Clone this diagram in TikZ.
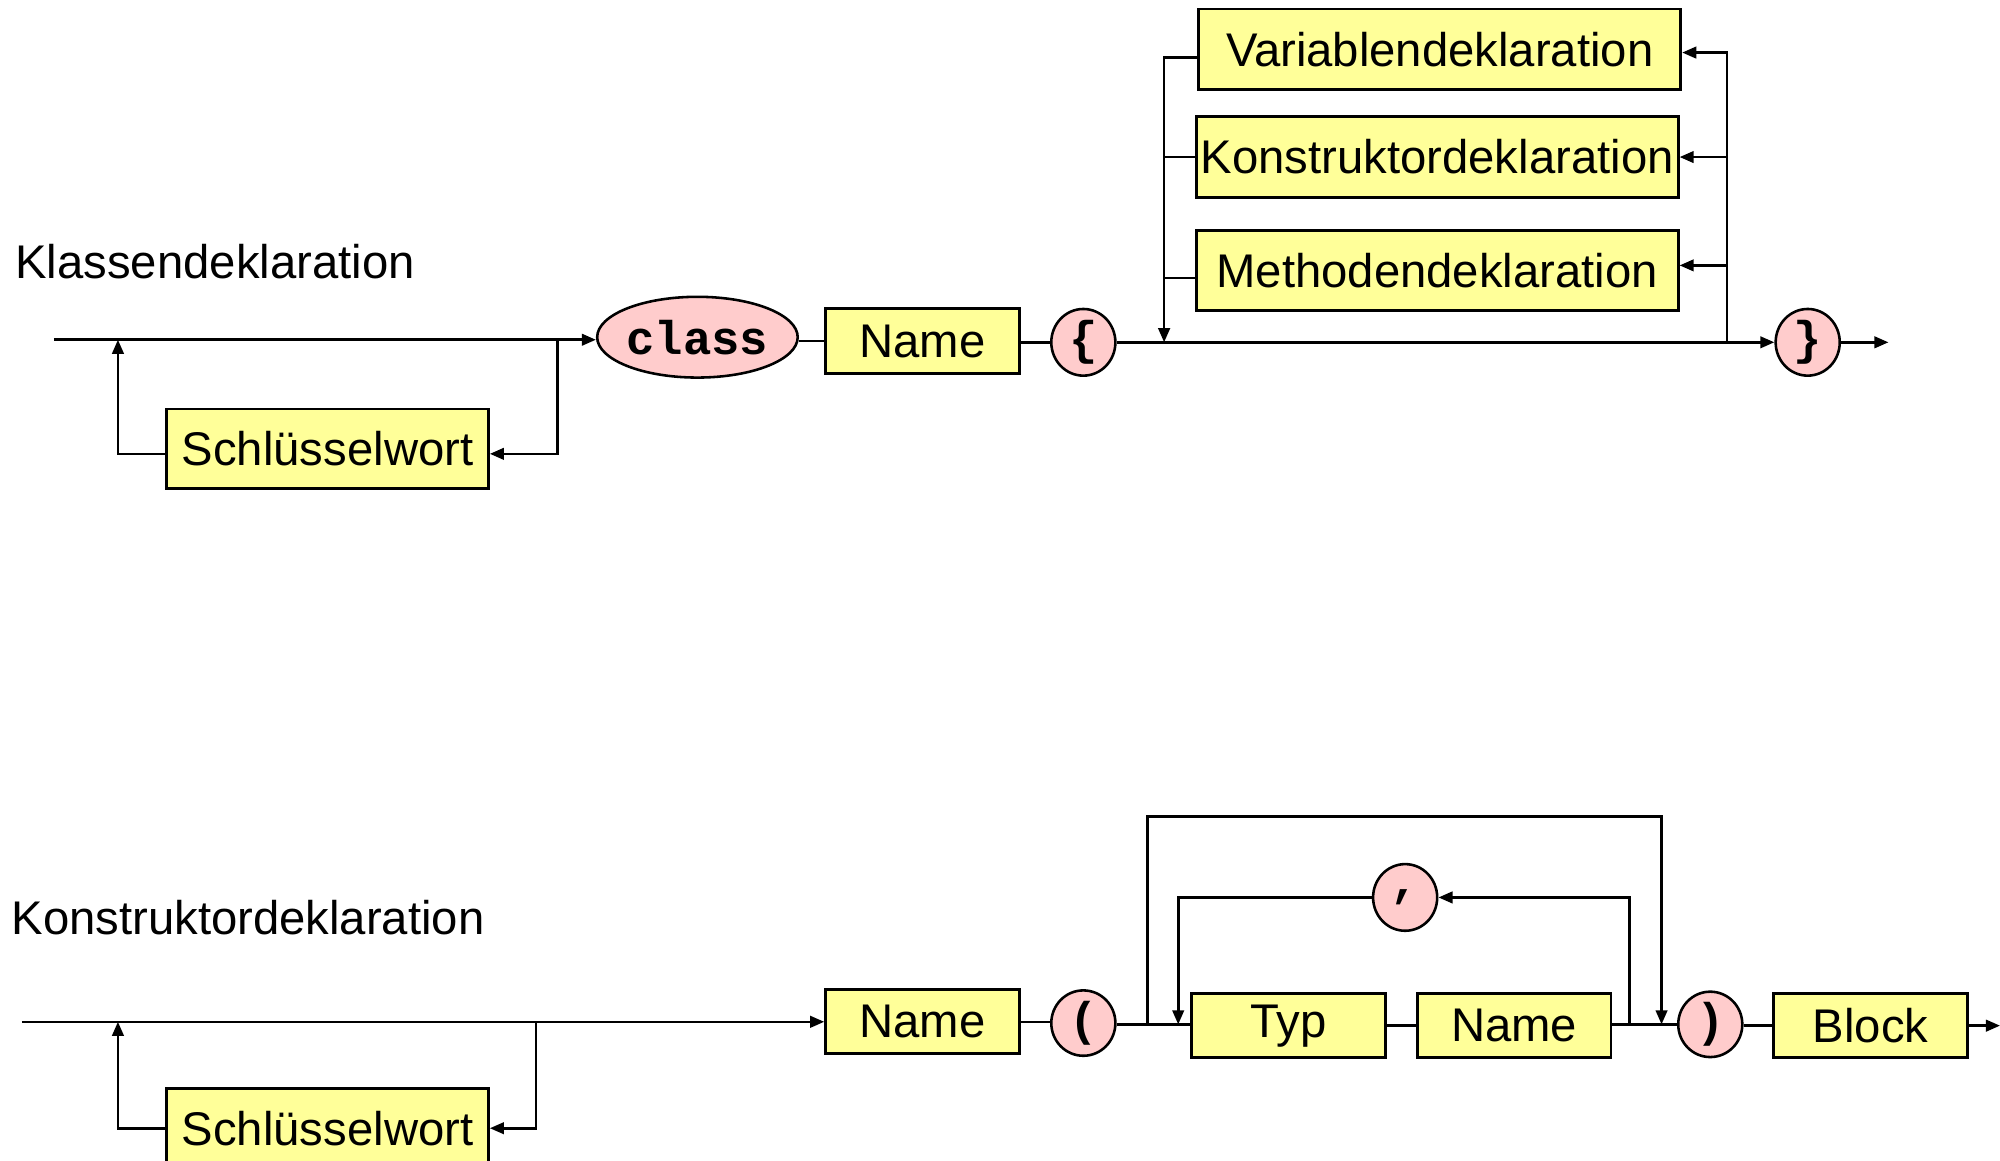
\documentclass[tikz,border=0pt]{standalone}
\usepackage{fontspec}
\setmainfont{Liberation Sans}
\newfontfamily\monofnt{Liberation Mono}
\usetikzlibrary{shapes.geometric,arrows.meta}
\definecolor{boxyellow}{HTML}{FFFF99}
\definecolor{tokpink}{HTML}{FFCCCC}
\begin{document}
\begin{tikzpicture}[x=1bp,y=-1bp,
  line width=2bp,
  arr/.style={-{Triangle[length=11bp,width=9bp]}},
  ntbox/.style={draw, line width=2.2bp, fill=boxyellow, inner sep=0pt,
     font=\fontsize{37}{44}\selectfont},
  tok/.style={draw, ellipse, line width=2bp, fill=tokpink, inner sep=0pt,
     minimum width=50bp, minimum height=52bp,
     font=\monofnt\bfseries\fontsize{37}{44}\selectfont},
  ttl/.style={anchor=base west, inner sep=0pt, font=\fontsize{37}{44}\selectfont}]
\useasboundingbox (0,0) rectangle (1560,904.8);

% ---------------- Klassendeklaration ----------------
\node[ttl] (t1) at (11,217) {Klassendeklaration};

\coordinate (s1) at (42,265);
\node[tok, minimum width=150bp, minimum height=63bp] (class) at (544,263) {class};
\node[ntbox, minimum width=151bp, minimum height=51bp] (name1) at (719.5,266) {Name};
\node[tok] (lbr) at (845,267) {\{};
\node[tok] (rbr) at (1410,267) {\}};
\coordinate (e1) at (1473,267);

\node[ntbox, minimum width=251bp, minimum height=62bp] (kw1) at (255.5,350) {Schlüsselwort};
\coordinate (j1) at (92,265);
\coordinate (j2) at (435,265);

\node[ntbox, minimum width=376bp, minimum height=63bp] (var) at (1123,38.5) {Variablendeklaration};
\node[ntbox, minimum width=376bp, minimum height=63bp] (kon) at (1121,122.5) {Konstruktordeklaration};
\node[ntbox, minimum width=376bp, minimum height=63bp] (met) at (1121,211) {Methodendeklaration};
\coordinate (j3) at (908,267);
\coordinate (j4) at (1347,267);

\draw[arr] (s1) -- (s1 -| class.west);
\draw (class.east |- name1.west) -- (name1.west);
\draw (name1.east |- lbr.west) -- (lbr.west);
\draw[arr] (lbr.east) -- (rbr.west);
\draw[arr] (rbr.east) -- (e1);

\draw[arr] ([yshift=-4bp]kw1.west) -| (j1);
\draw[arr] (j2) |- ([yshift=-4bp]kw1.east);

\draw[arr] ([yshift=-6.5bp]var.west) -| (j3);
\draw (kon.west) -- (kon.west -| j3);
\draw ([yshift=-6bp]met.west) -- ([yshift=-6bp]met.west -| j3);
\draw[arr] (j4) |- ([yshift=-2.5bp]var.east);
\draw[arr] (kon.east -| j4) -- (kon.east);
\draw[arr] ([yshift=4bp]met.east -| j4) -- ([yshift=4bp]met.east);

% ---------------- Konstruktordeklaration ----------------
\node[ttl] (t2) at (8,729) {Konstruktordeklaration};

\coordinate (s2) at (17,797);
\node[ntbox, minimum width=151bp, minimum height=50bp] (name2a) at (719.5,797) {Name};
\node[tok, minimum height=51bp] (lpar) at (845,798) {(};
\node[ntbox, minimum width=151bp, minimum height=50bp] (typ) at (1005,800) {Typ};
\node[ntbox, minimum width=151bp, minimum height=50bp] (name2b) at (1181,800) {Name};
\node[tok, minimum height=51bp] (rpar) at (1334,799) {)};
\node[ntbox, minimum width=151bp, minimum height=50bp] (block) at (1459,800) {Block};
\coordinate (e2) at (1560,800);
\node[tok] (comma) at (1096,700) {,};

\node[ntbox, minimum width=251bp, minimum height=62bp] (kw2) at (255.5,880) {Schlüsselwort};
\coordinate (j5) at (92,797);
\coordinate (j6) at (418,797);

\coordinate (j7) at (895,799);
\coordinate (o1) at (895,637);
\coordinate (o2) at (1296,637);
\coordinate (j8) at (1296,799);
\coordinate (j9) at (919,799);
\coordinate (j10) at (1271,799);

\draw[arr] (s2) -- (name2a.west);
\draw (name2a.east) -- (name2a.east -| lpar.west);
\draw (lpar.east |- j7) -- (j7 -| typ.west);
\draw (typ.east |- name2b.west) -- (name2b.west);
\draw (name2b.east |- j10) -- (j10 -| rpar.west);
\draw (rpar.east |- block.west) -- (block.west);
\draw[arr] (block.east) -- (e2);

\draw[arr] (kw2.west) -| (j5);
\draw[arr] (j6) |- (kw2.east);

\draw[arr] (j7) -- (o1) -- (o2) -- (j8);
\draw[arr] (j10) |- (comma.east);
\draw[arr] (comma.west) -| (j9);
\end{tikzpicture}
\end{document}
